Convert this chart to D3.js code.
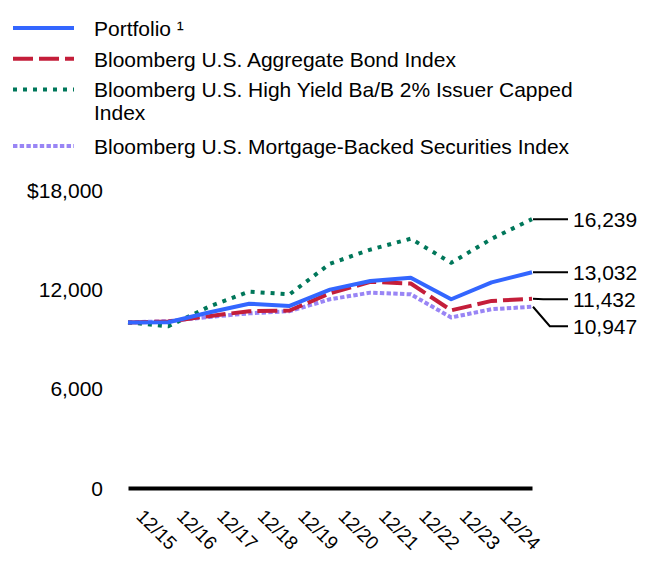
<!DOCTYPE html>
<html>
<head>
<meta charset="utf-8">
<script src="https://cdn.jsdelivr.net/npm/d3@7"></script>
<style>
  html, body { margin: 0; padding: 0; background: #fff; }
  svg { display: block; font-family: Arial, "Liberation Sans", sans-serif; }
</style>
</head>
<body>
<svg id="chart" width="660" height="588"></svg>
<script>
// ---- data ----
const dates = ["12/14", "12/15", "12/16", "12/17", "12/18", "12/19", "12/20", "12/21", "12/22", "12/23", "12/24"];
const tickLabels = ["12/15", "12/16", "12/17", "12/18", "12/19", "12/20", "12/21", "12/22", "12/23", "12/24"];
const yTicks = [0, 6000, 12000, 18000];

const portfolio = [10000, 10010, 10600, 11130, 11000, 11980, 12500, 12700, 11400, 12420, 13032];
const aggregate = [10000, 10055, 10380, 10680, 10720, 11760, 12450, 12350, 10730, 11300, 11432];
const highYield = [10000, 9770, 10950, 11860, 11700, 13550, 14400, 15060, 13600, 15050, 16239];
const mbs = [10000, 10080, 10330, 10550, 10680, 11400, 11800, 11700, 10300, 10800, 10947];

const seriesNames = [
  "Portfolio \u00B9",
  "Bloomberg U.S. Aggregate Bond Index",
  "Bloomberg U.S. High Yield Ba/B 2% Issuer Capped Index",
  "Bloomberg U.S. Mortgage-Backed Securities Index"
];
const seriesValues = [portfolio, aggregate, highYield, mbs];

// ---- styles ----
const styles = [
  { color: "#3366FF", dash: null },
  { color: "#C41E3A", dash: "20,6" },
  { color: "#00775A", dash: "4,6" },
  { color: "#9985F5", dash: "4.4,2.3" }
];
const drawOrder = [3, 2, 1, 0];
const FONT = 21;

const svg = d3.select("#chart");
const x = d3.scalePoint().domain(dates).range([128, 532]);
const y = d3.scaleLinear().domain([0, 18000]).range([488, 190]);

// ---- y axis labels ----
const fmt = d3.format(",");
svg.append("g").selectAll("text").data(yTicks).join("text")
  .attr("x", 103).attr("y", d => y(d))
  .attr("text-anchor", "end").attr("dominant-baseline", "central")
  .attr("font-size", FONT).attr("fill", "#000")
  .text(d => d === 18000 ? "$" + fmt(d) : fmt(d));

// ---- x axis ----
const xAxis = d3.axisBottom(x).tickValues(tickLabels).tickSize(0).tickSizeOuter(0).tickPadding(0);
const gx = svg.append("g").attr("transform", `translate(0,${y(0)})`).call(xAxis);
gx.select(".domain").attr("stroke", "#000").attr("stroke-width", 4);
gx.selectAll(".tick text")
  .attr("font-size", 19).attr("font-family", "Arial, 'Liberation Sans', sans-serif").attr("fill", "#000")
  .attr("text-anchor", "end").attr("dy", null).attr("y", null)
  .attr("transform", "translate(0,63) rotate(45)");

// ---- lines ----
const line = d3.line().x((d, i) => x(dates[i])).y(d => y(d));
drawOrder.forEach(k => {
  svg.append("path")
    .datum(seriesValues[k])
    .attr("d", line)
    .attr("fill", "none")
    .attr("stroke", styles[k].color)
    .attr("stroke-width", 4)
    .attr("stroke-dasharray", styles[k].dash)
    .attr("stroke-linejoin", "round");
});

// ---- end labels with leader lines ----
const ends = seriesValues.map((v, k) => ({ k, value: v[v.length - 1], yd: y(v[v.length - 1]) }))
  .sort((a, b) => a.yd - b.yd);
const minGap = 27;
ends.forEach((e, i) => {
  e.yl = i === 0 ? e.yd : Math.max(e.yd, ends[i - 1].yl + minGap);
});
const xEnd = x(dates[dates.length - 1]);
const gEnd = svg.append("g");
ends.forEach(e => {
  const elbow = xEnd + 1 + 10 + Math.abs(e.yl - e.yd) * 0.35;
  gEnd.append("path")
    .attr("d", `M${xEnd + 1},${e.yd}L${elbow},${e.yl}L${xEnd + 36},${e.yl}`)
    .attr("fill", "none").attr("stroke", "#000").attr("stroke-width", 2);
  gEnd.append("text")
    .attr("x", xEnd + 41).attr("y", e.yl)
    .attr("dominant-baseline", "central")
    .attr("font-size", FONT).attr("fill", "#000")
    .text(fmt(e.value));
});

// ---- legend ----
const legend = svg.append("g");
let ly = 28;
const maxW = 500;
seriesNames.forEach((name, k) => {
  const g = legend.append("g");
  g.append("line")
    .attr("x1", 13).attr("x2", 74).attr("y1", ly).attr("y2", ly)
    .attr("stroke", styles[k].color).attr("stroke-width", 4)
    .attr("stroke-dasharray", styles[k].dash);
  const t = g.append("text")
    .attr("x", 94).attr("y", ly)
    .attr("dominant-baseline", "central")
    .attr("font-size", FONT).attr("fill", "#000");
  // word wrap
  const words = name.split(" ");
  let lineWords = [];
  let lines = 0;
  let tspan = t.append("tspan").attr("x", 94).attr("dy", 0);
  words.forEach(w => {
    lineWords.push(w);
    tspan.text(lineWords.join(" "));
    if (tspan.node().getComputedTextLength() > maxW && lineWords.length > 1) {
      lineWords.pop();
      tspan.text(lineWords.join(" "));
      lineWords = [w];
      lines++;
      tspan = t.append("tspan").attr("x", 94).attr("dy", 23).text(w);
    }
  });
  ly += 30.7 + lines * 26;
});
</script>
</body>
</html>
